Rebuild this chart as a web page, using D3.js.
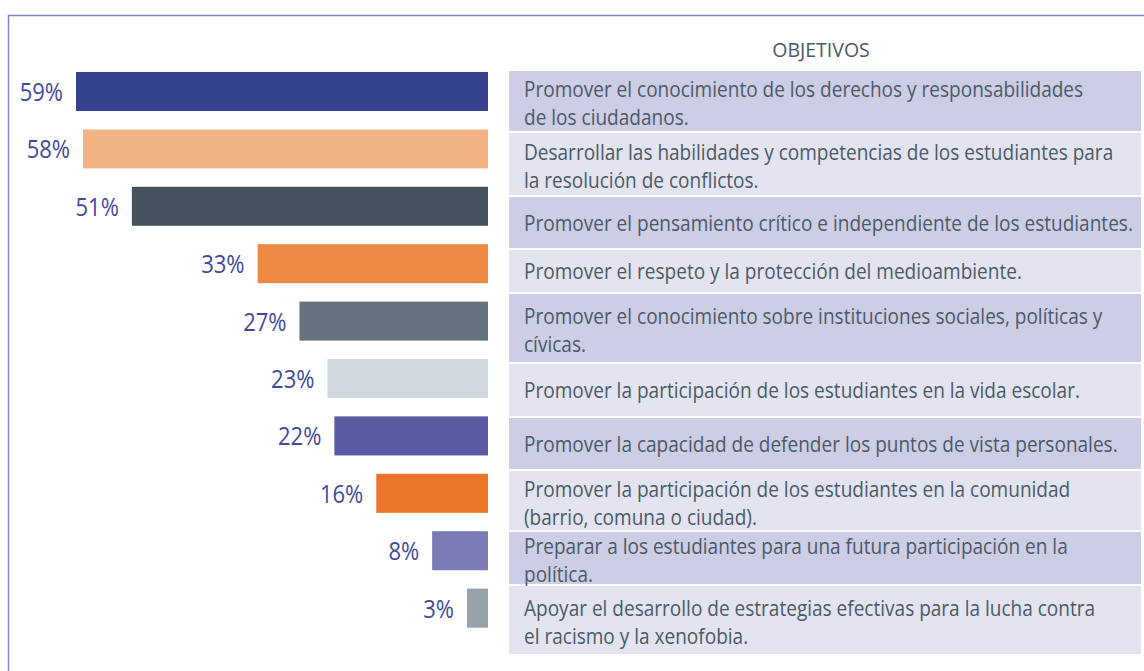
<!DOCTYPE html>
<html>
<head>
<meta charset="utf-8">
<script src="https://cdn.jsdelivr.net/npm/d3@7"></script>
<style>
  html, body { margin: 0; padding: 0; background: #fff; }
  svg { display: block; }
</style>
</head>
<body>
<div id="chart"></div>
<script>
// percentages, top to bottom
var values = [59, 58, 51, 33, 27, 23, 22, 16, 8, 3];

var barColors = ["#36418f", "#f2b384", "#44535e", "#ec8a42", "#65747e",
                 "#d1d9df", "#5a5ba3", "#e8752a", "#7c7ab4", "#97a3ab"];

var objetivos = [
  ["Promover el conocimiento de los derechos y responsabilidades", "de los ciudadanos."],
  ["Desarrollar las habilidades y competencias de los estudiantes para", "la resolución de conflictos."],
  ["Promover el pensamiento crítico e independiente de los estudiantes."],
  ["Promover el respeto y la protección del medioambiente."],
  ["Promover el conocimiento sobre instituciones sociales, políticas y", "cívicas."],
  ["Promover la participación de los estudiantes en la vida escolar."],
  ["Promover la capacidad de defender los puntos de vista personales."],
  ["Promover la participación de los estudiantes en la comunidad", "(barrio, comuna o ciudad)."],
  ["Preparar a los estudiantes para una futura participación en la", "política."],
  ["Apoyar el desarrollo de estrategias efectivas para la lucha contra", "el racismo y la xenofobia."]
];

var header = "OBJETIVOS";

// table row heights (layout, incl. white separator)
var rowHeights = [62, 64, 53, 44, 70, 54, 53, 61, 54, 70];

var W = 1144, H = 671;
var textColor = "#4b5a66", pctColor = "#3f4a9c";
var condense = 0.885, pctCondense = 0.88;

var svg = d3.select("#chart").append("svg")
    .attr("width", W).attr("height", H);

// frame
svg.append("line").attr("x1", 8).attr("x2", W).attr("y1", 15.5).attr("y2", 15.5)
    .attr("stroke", "#8585c4").attr("stroke-width", 1.5);
svg.append("line").attr("x1", 8.5).attr("x2", 8.5).attr("y1", 15).attr("y2", H)
    .attr("stroke", "#8585c4").attr("stroke-width", 1.5);

var idx = d3.range(values.length);

var y = d3.scaleBand().domain(idx).range([53.6, 646]).paddingInner(0.32).paddingOuter(0.32);
var barRight = 488;
var x = d3.scaleLinear().domain([0, 59]).range([barRight, 76]);

// bars
svg.selectAll("rect.bar")
  .data(values)
  .enter().append("rect")
    .attr("class", "bar")
    .attr("x", function(d) { return x(d); })
    .attr("y", function(d, i) { return y(i); })
    .attr("width", function(d) { return barRight - x(d); })
    .attr("height", y.bandwidth())
    .attr("fill", function(d, i) { return barColors[i]; });

// percent labels
svg.selectAll("text.pct")
  .data(values)
  .enter().append("text")
    .attr("class", "pct")
    .attr("transform", function(d, i) {
        return "translate(" + (x(d) - 13) + "," + (y(i) + y.bandwidth() / 2 + 9.5) + ") scale(" + pctCondense + ",1)";
    })
    .attr("text-anchor", "end")
    .attr("font-family", "'Open Sans', sans-serif")
    .attr("font-size", 25)
    .attr("fill", pctColor)
    .text(function(d) { return d + "%"; });

// table
var tableX = 509, tableW = 1141 - 509, tableTop = 71;
var tops = [];
var acc = tableTop;
rowHeights.forEach(function(h) { tops.push(acc); acc += h; });

var rows = svg.selectAll("g.row")
  .data(objetivos)
  .enter().append("g")
    .attr("class", "row")
    .attr("transform", function(d, i) { return "translate(" + tableX + "," + tops[i] + ")"; });

rows.append("rect")
    .attr("width", tableW)
    .attr("height", function(d, i) { return rowHeights[i] - 2; })
    .attr("fill", function(d, i) { return i % 2 === 0 ? "#cdcde6" : "#e4e4f1"; });

var lineH = 28;
rows.each(function(lines, i) {
    var g = d3.select(this);
    var mid = (rowHeights[i] - 2) / 2 + (lines.length > 1 ? 2 : 0);
    lines.forEach(function(t, j) {
        var cy = mid + (j - (lines.length - 1) / 2) * lineH;
        g.append("text")
            .attr("transform", "translate(15," + (cy + 8) + ") scale(" + condense + ",1)")
            .attr("font-family", "'Open Sans', sans-serif")
            .attr("font-size", 21.5)
            .attr("fill", textColor)
            .text(t);
    });
});

svg.append("text")
    .attr("x", tableX + tableW / 2 - 4)
    .attr("y", 57)
    .attr("text-anchor", "middle")
    .attr("font-family", "'Open Sans', sans-serif")
    .attr("font-size", 19.5)
    .attr("fill", textColor)
    .text(header);
</script>
</body>
</html>
